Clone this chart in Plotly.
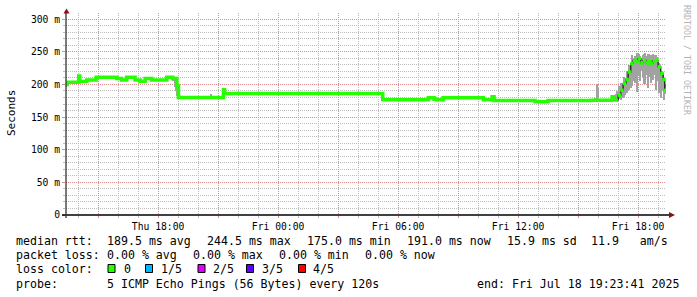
import plotly.graph_objects as go
import pandas as pd

# ---------------- data ----------------
x_start = "2025-07-17 13:23:41"
x_end = "2025-07-18 19:23:41"

med_time = [
    "2025-07-17 13:24", "2025-07-17 13:27", "2025-07-17 14:02", "2025-07-17 14:05",
    "2025-07-17 14:26", "2025-07-17 14:54", "2025-07-17 15:56", "2025-07-17 16:11",
    "2025-07-17 16:26", "2025-07-17 16:51", "2025-07-17 17:06", "2025-07-17 17:21",
    "2025-07-17 17:41", "2025-07-17 18:26", "2025-07-17 18:44", "2025-07-17 18:56",
    "2025-07-17 19:01", "2025-07-17 21:16", "2025-07-17 21:19",
    "2025-07-18 05:14", "2025-07-18 07:31", "2025-07-18 07:48", "2025-07-18 07:57",
    "2025-07-18 08:15", "2025-07-18 10:16", "2025-07-18 10:42", "2025-07-18 10:48",
    "2025-07-18 12:51", "2025-07-18 13:30", "2025-07-18 15:42", "2025-07-18 16:42",
    "2025-07-18 16:48",
    "2025-07-18 17:00", "2025-07-18 17:08", "2025-07-18 17:15", "2025-07-18 17:24",
    "2025-07-18 17:30", "2025-07-18 17:38", "2025-07-18 17:45", "2025-07-18 17:54",
    "2025-07-18 18:00", "2025-07-18 18:08", "2025-07-18 18:15", "2025-07-18 18:24",
    "2025-07-18 18:30", "2025-07-18 18:38", "2025-07-18 18:45", "2025-07-18 18:54",
    "2025-07-18 19:00", "2025-07-18 19:08", "2025-07-18 19:15", "2025-07-18 19:20",
    "2025-07-18 19:23:41",
]
med_val = [
    200, 203.5, 213, 204.5,
    207, 211, 209, 207,
    211, 207, 205, 209,
    207, 211, 209, 198,
    180, 192, 186,
    176.5, 179.5, 177.5, 176.5,
    179.5, 176.5, 181, 175.5,
    173.5, 175.5, 176, 181,
    176,
    183.7, 191, 201.5, 207.6,
    219, 232, 237, 234.8,
    239.8, 233, 237, 233,
    234.8, 232, 236, 237,
    227, 217, 207.6, 191,
    191,
]
rise_from = "2025-07-18 16:48"

smoke_time = [
    "2025-07-17 13:24", "2025-07-17 18:46", "2025-07-17 18:50", "2025-07-17 18:54",
    "2025-07-17 18:58", "2025-07-17 19:00", "2025-07-17 20:40", "2025-07-18 09:03",
    "2025-07-18 15:50", "2025-07-18 15:56", "2025-07-18 16:00",
    "2025-07-18 16:46", "2025-07-18 16:50", "2025-07-18 16:54", "2025-07-18 16:58",
    "2025-07-18 17:02", "2025-07-18 17:06", "2025-07-18 17:10", "2025-07-18 17:14",
    "2025-07-18 17:18", "2025-07-18 17:22", "2025-07-18 17:26", "2025-07-18 17:30",
    "2025-07-18 17:34", "2025-07-18 17:38", "2025-07-18 17:42", "2025-07-18 17:46",
    "2025-07-18 17:50", "2025-07-18 17:54", "2025-07-18 17:58", "2025-07-18 18:02",
    "2025-07-18 18:06", "2025-07-18 18:10", "2025-07-18 18:14", "2025-07-18 18:18",
    "2025-07-18 18:22", "2025-07-18 18:26", "2025-07-18 18:30", "2025-07-18 18:34",
    "2025-07-18 18:38", "2025-07-18 18:42", "2025-07-18 18:46", "2025-07-18 18:50",
    "2025-07-18 18:54", "2025-07-18 18:58", "2025-07-18 19:02", "2025-07-18 19:06",
    "2025-07-18 19:10", "2025-07-18 19:14", "2025-07-18 19:18", "2025-07-18 19:22",
]
smoke_lo = [
    196, 205, 196, 190, 182, 180, 180, 179.5,
    176, 176, 176,
    176, 176, 176, 177, 177, 178, 176, 180,
    181, 184, 187, 190, 192, 195, 197, 205,
    202, 215, 188, 215, 205, 220, 212, 200,
    200, 215, 195, 212, 202, 210, 207, 214,
    192, 205, 187, 195, 180, 190, 176, 185,
]
smoke_hi = [
    206, 211, 212, 209, 200, 192, 186, 183,
    180, 201, 195,
    182, 184, 186, 190, 197, 195, 203, 200,
    212, 210, 220, 218, 230, 228, 245, 240,
    243, 238, 248, 246, 243, 240, 245, 246,
    248, 244, 247, 246, 245, 244, 247, 245,
    245, 242, 233, 228, 220, 215, 207, 200,
]

y_ticks = [0, 50, 100, 150, 200, 250, 300]
y_ticktext = ["0", "50 m", "100 m", "150 m", "200 m", "250 m", "300 m"]
x_ticks = ["2025-07-17 15:00", "2025-07-17 18:00", "2025-07-17 21:00", "2025-07-18 00:00",
           "2025-07-18 03:00", "2025-07-18 06:00", "2025-07-18 09:00", "2025-07-18 12:00",
           "2025-07-18 15:00", "2025-07-18 18:00"]
x_ticktext = ["", "Thu 18:00", "", "Fri 00:00", "", "Fri 06:00", "", "Fri 12:00", "", "Fri 18:00"]

rtt_label = "median rtt:"
rtt_stats = ["189.5 ms avg", "244.5 ms max", "175.0 ms min", "191.0 ms now", "15.9 ms sd", "11.9   am/s"]
loss_label = "packet loss:"
loss_stats = ["0.00 % avg", "0.00 % max", "0.00 % min", "0.00 % now"]
lc_label = "loss color:"
lc_names = ["0", "1/5", "2/5", "3/5", "4/5"]
lc_colors = ["#26ff00", "#00b8ff", "#dd00ff", "#5e00ff", "#ff0000"]
probe_label = "probe:"
probe_text = "5 ICMP Echo Pings (56 Bytes) every 120s"
end_text = "end: Fri Jul 18 19:23:41 2025"
y_title = "Seconds"
side_text = "RRDTOOL / TOBI OETIKER"

# ---------------- layout helpers ----------------
L, R, T, B = 66, 31, 13, 82
W, H = 697, 297
PW, PH = W - L - R, H - T - B


def px(x):
    return (x - L) / PW


def py(y):
    return (T + PH - y) / PH


MONO = "DejaVu Sans Mono"
GREEN = lc_colors[0]

fig = go.Figure()

# smoke
fig.add_trace(go.Bar(
    x=smoke_time, base=smoke_lo,
    y=[h - l for l, h in zip(smoke_lo, smoke_hi)],
    width=260000, marker=dict(color="#a2a2a2", line=dict(width=0)),
    hoverinfo="skip",
))

# thin dark median
fig.add_trace(go.Scatter(
    x=med_time, y=med_val, mode="lines", line=dict(color="#111111", width=1.2, shape="hv"),
    hoverinfo="skip",
))

cut = med_time.index(rise_from)
# continuous green median
fig.add_trace(go.Scatter(
    x=med_time[:cut + 1], y=med_val[:cut + 1], mode="lines",
    line=dict(color=GREEN, width=3.5, shape="hv"), hoverinfo="skip",
))
# green blobs in the noisy part (one per median step, at the middle of the step)
t = pd.to_datetime(pd.Series(med_time), format="ISO8601")
t0 = t[cut:-1].reset_index(drop=True)
t1 = t[cut + 1:].reset_index(drop=True)
mid = t0 + (t1 - t0) / 2
fig.add_trace(go.Scatter(
    x=[m.strftime("%Y-%m-%d %H:%M:%S") for m in mid], y=med_val[cut:-1], mode="markers",
    marker=dict(symbol="square", size=3.5, color=GREEN, line=dict(width=0)), hoverinfo="skip",
))

GRID = "#bcbcbc"
MGRID = "#dc8c8c"

# hourly grid axis (x) and 3-hourly labelled axis (x2) on top of it
fig.update_layout(
    xaxis=dict(
        type="date", range=[x_start, x_end],
        tickmode="linear", tick0="2025-07-17 00:00", dtick=3600000,
        showticklabels=False, showgrid=True, gridcolor=GRID, griddash="1px,1px", gridwidth=1,
        ticks="outside", ticklen=2, tickcolor=GRID, showline=False, zeroline=False,
    ),
    xaxis2=dict(
        type="date", range=[x_start, x_end], overlaying="x", side="bottom", matches="x",
        tickvals=x_ticks, ticktext=x_ticktext,
        showgrid=True, gridcolor=MGRID, griddash="1px,1px", gridwidth=1,
        ticks="outside", ticklen=2, tickcolor=MGRID, showline=False, zeroline=False,
        tickfont=dict(family=MONO, size=9.7, color="#000"),
    ),
)
# dummy trace so x2 is drawn
fig.add_trace(go.Scatter(x=[x_start], y=[None], xaxis="x2", mode="lines", hoverinfo="skip"))

fig.update_yaxes(
    range=[0, 309.5], tickvals=y_ticks, ticktext=y_ticktext,
    showgrid=True, gridcolor=MGRID, griddash="1px,1px", gridwidth=1,
    ticks="outside", ticklen=3, tickcolor=MGRID,
    minor=dict(dtick=10, showgrid=True, gridcolor=GRID, griddash="1px,1px",
               ticks="outside", ticklen=2, tickcolor=GRID),
    showline=False, zeroline=False,
    tickfont=dict(family=MONO, size=9.7, color="#000"),
)

shapes = []
# axis lines
shapes.append(dict(type="line", xref="paper", yref="paper", x0=px(62), x1=px(670), y0=0, y1=0,
                   line=dict(color="#000", width=1.3)))
shapes.append(dict(type="line", xref="paper", yref="paper", x0=0, x1=0, y0=py(218), y1=py(12),
                   line=dict(color="#333", width=1.3)))
# arrows
ARROW = "#8b1010"
shapes.append(dict(type="path", xref="paper", yref="paper",
                   path=f"M {px(63.5)} {py(13.5)} L {px(69.5)} {py(13.5)} L {px(66.5)} {py(8.5)} Z",
                   fillcolor=ARROW, line=dict(color=ARROW, width=0)))
shapes.append(dict(type="path", xref="paper", yref="paper",
                   path=f"M {px(669)} {py(212)} L {px(669)} {py(218)} L {px(675)} {py(215)} Z",
                   fillcolor=ARROW, line=dict(color=ARROW, width=0)))

ann = []
LEG_FONT = dict(family=MONO, size=11.6, color="#000")


def text(x, y, s, anchor="left"):
    ann.append(dict(xref="paper", yref="paper", x=px(x), y=py(y), text=s, showarrow=False,
                    xanchor=anchor, yanchor="middle", font=LEG_FONT, borderpad=0))


row_y = [241.3, 255.3, 268.7, 283.7]
text(15, row_y[0], rtt_label)
for xpos, s in zip([106, 206, 306, 406, 506, 590], rtt_stats):
    text(xpos, row_y[0], s)
text(15, row_y[1], loss_label)
for xpos, s in zip([106, 192, 278, 364], loss_stats):
    text(xpos, row_y[1], s)
text(15, row_y[2], lc_label)
box_x = [108, 145.5, 198, 246.5, 298.5]
lab_x = [122.5, 160, 212, 261, 312]
for bx, lx, name, col in zip(box_x, lab_x, lc_names, lc_colors):
    shapes.append(dict(type="rect", xref="paper", yref="paper", x0=px(bx), x1=px(bx + 7),
                       y0=py(272.5), y1=py(264.5), fillcolor=col, line=dict(color="#000", width=1)))
    text(lx, row_y[2], name)
text(15, row_y[3], probe_label)
text(106, row_y[3], probe_text)
text(476, row_y[3], end_text)

# y axis title
ann.append(dict(xref="paper", yref="paper", x=px(11), y=py(113), text=y_title, showarrow=False,
                textangle=-90, xanchor="center", yanchor="middle",
                font=dict(family=MONO, size=11, color="#000")))
# side text
ann.append(dict(xref="paper", yref="paper", x=px(687), y=py(60), text=side_text, showarrow=False,
                textangle=90, xanchor="center", yanchor="middle",
                font=dict(family=MONO, size=8.3, color="#b4b4b4")))

fig.update_layout(
    width=W, height=H, margin=dict(l=L, r=R, t=T, b=B, pad=0),
    paper_bgcolor="#ffffff", plot_bgcolor="#ffffff",
    showlegend=False, bargap=0, shapes=shapes, annotations=ann,
)

fig.write_html("out.html")
